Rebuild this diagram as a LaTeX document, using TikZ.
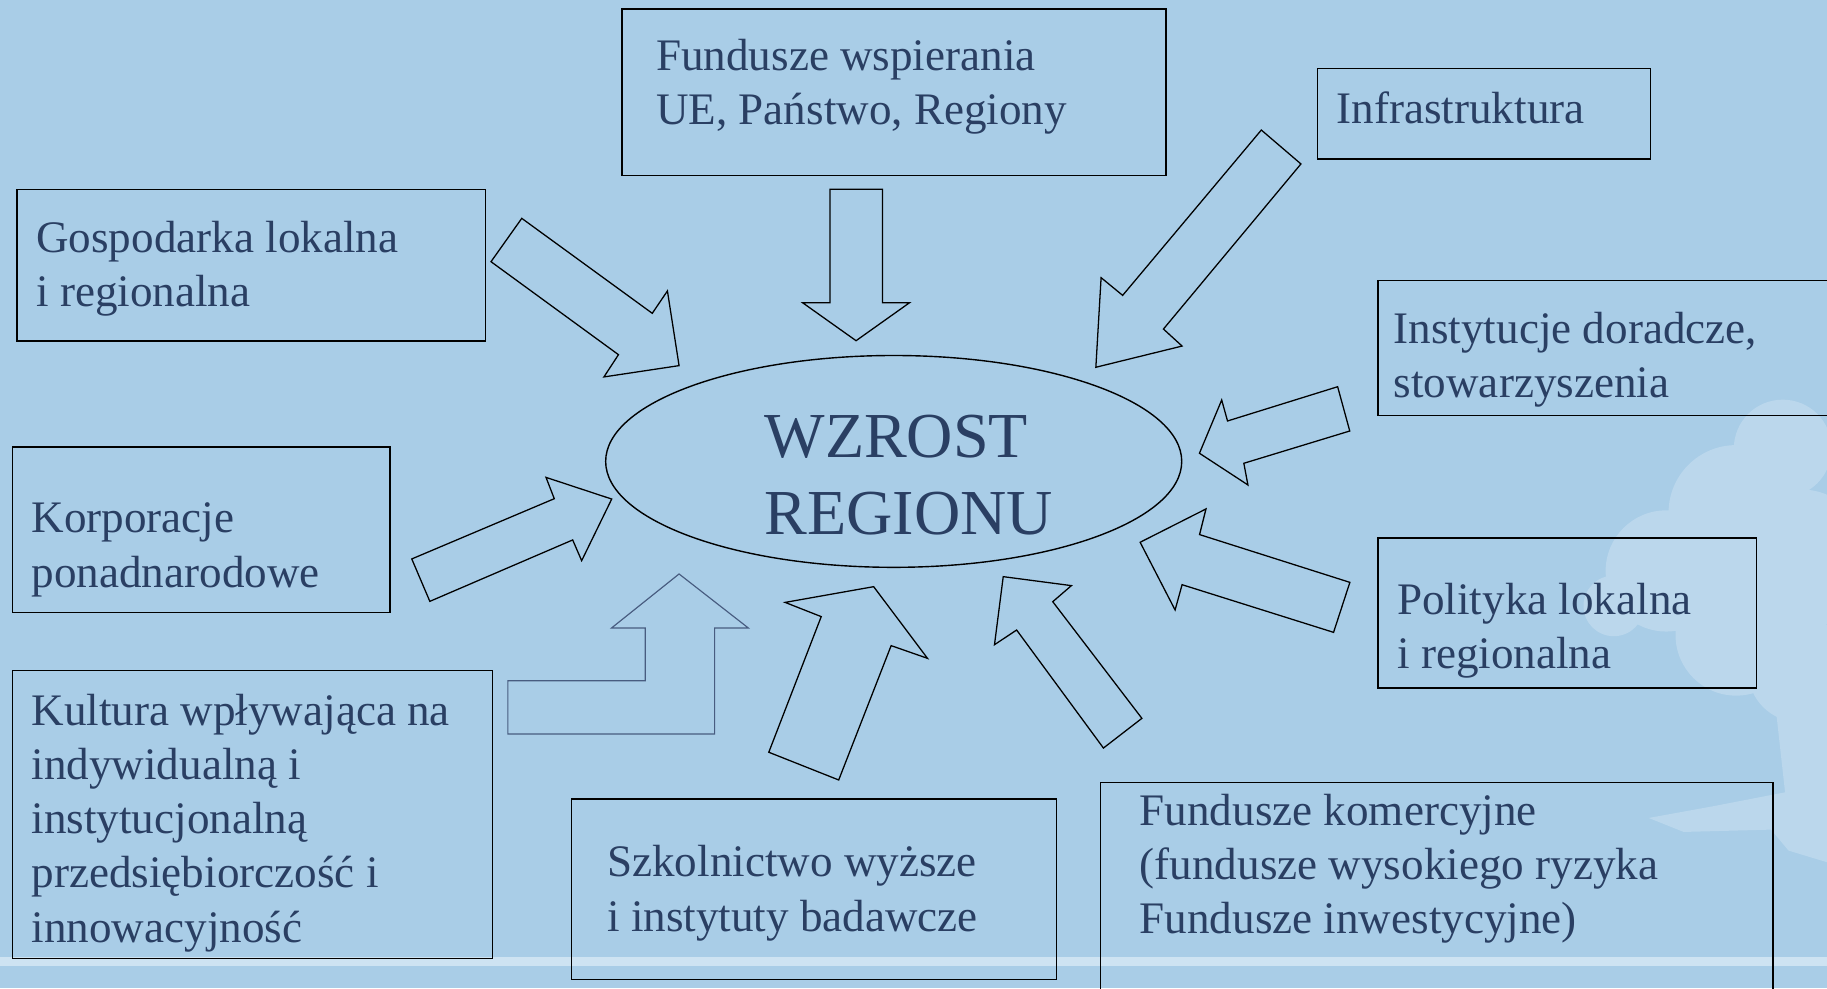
\documentclass[tikz,border=0pt]{standalone}
\usepackage{fontspec}
\setmainfont{Liberation Serif}

\definecolor{slidebg}{RGB}{169,205,231}
\definecolor{navy}{RGB}{42,63,99}
\definecolor{treelight}{RGB}{214,232,245}
\definecolor{stripe}{RGB}{206,227,242}
\definecolor{bentline}{RGB}{72,92,128}

\tikzset{
    frame/.style={draw=black, line width=1.3pt, inner sep=0pt, anchor=north west},
    boxtext/.style={text=navy, inner sep=0pt, anchor=north west, align=left,
        font={\fontsize{38.7pt}{46.5pt}\selectfont}},
    blockarrow/.style={draw=black, line width=1.1pt, line join=miter}
}

\begin{document}
\begin{tikzpicture}[x=1pt,y=-1pt]
    % Slide background
    \fill[slidebg] (0,0) rectangle (1568,848);
    \useasboundingbox (0,0) rectangle (1568,848);
    \fill[stripe] (0,821) rectangle (1568,829);

    % Tree in the background
    \begin{scope}[transparency group, opacity=0.4]
        \fill[treelight] (1530,385) circle (42) (1490,440) circle (58)
            (1430,490) circle (52) (1385,520) circle (26) (1545,480) circle (60)
            (1490,545) circle (52) (1545,575) circle (45);
        \fill[treelight] (1522,590) -- (1532,680) -- (1470,692) -- (1415,702)
            -- (1445,714) -- (1520,712) -- (1535,730) -- (1568,740) -- (1568,590) -- cycle;
    \end{scope}

    % Centre
    \draw[line width=1.2pt] (767,396) coordinate (centre) ellipse [x radius=247.2, y radius=90.9];
    \node[text=navy, inner sep=0pt, anchor=north west, align=left,
        font={\fontsize{55pt}{66pt}\selectfont}] (wzrost) at (656,356) {WZROST\\REGIONU};

    % Boxes
    \node[frame, minimum width=467, minimum height=143] (fundusze) at (533,7) {};
    \node[boxtext] (funduszetxt) at (563,33.5) {Fundusze wspierania\\UE, Państwo, Regiony};

    \node[frame, minimum width=286, minimum height=78] (infra) at (1130,58) {};
    \node[boxtext] (infratxt) at (1147,78.5) {Infrastruktura};

    \node[frame, minimum width=402, minimum height=130] (gosp) at (14,162) {};
    \node[boxtext] (gosptxt) at (31,189.5) {Gospodarka lokalna\\i regionalna};

    \node[frame, minimum width=400, minimum height=116] (inst) at (1182,240) {};
    \node[boxtext] (insttxt) at (1196,267.5) {Instytucje doradcze,\\stowarzyszenia};

    \node[frame, minimum width=324, minimum height=142] (korp) at (10,383) {};
    \node[boxtext] (korptxt) at (27,431.5) {Korporacje\\ponadnarodowe};

    \node[frame, minimum width=325, minimum height=129] (polit) at (1182,461) {};
    \node[boxtext] (polittxt) at (1199,500.5) {Polityka lokalna\\i regionalna};

    \node[frame, minimum width=412, minimum height=247] (kult) at (10,575) {};
    \node[boxtext] (kulttxt) at (27,595.5) {Kultura wpływająca na\\indywidualną i\\instytucjonalną\\przedsiębiorczość i\\innowacyjność};

    \node[frame, minimum width=416, minimum height=155] (szkol) at (490,685) {};
    \node[boxtext] (szkoltxt) at (521,725.5) {Szkolnictwo wyższe\\i instytuty badawcze};

    \node[frame, minimum width=577, minimum height=190] (komerc) at (944,671) {};
    \node[boxtext] (komerctxt) at (978,681.5) {Fundusze komercyjne\\(fundusze wysokiego ryzyka\\Fundusze inwestycyjne)};

    % Block arrows
    \draw[blockarrow] (712.3,162.5) -- (757.3,162.5) -- (757.3,259.8) -- (780.6,259.8)
        -- (734.7,292.4) -- (688.8,259.8) -- (712.3,259.8) -- cycle;
    \draw[blockarrow] (447.8,187.4) -- (559.8,268.9) -- (572.8,249.7) -- (582.8,313.8)
        -- (518.3,323.5) -- (530.8,304.4) -- (421.4,224.6) -- cycle;
    \draw[blockarrow] (1082.5,111.6) -- (1116.5,140.7) -- (998.5,282.4) -- (1014.5,297)
        -- (940.5,315.2) -- (945,238.3) -- (963.5,253.5) -- cycle;
    \draw[blockarrow] (1148,331.9) -- (1158.4,369.9) -- (1067.5,397.6) -- (1071,416.2)
        -- (1029.4,389) -- (1048.5,343.3) -- (1053.5,361.3) -- cycle;
    \draw[blockarrow] (353.4,479.7) -- (475.7,428) -- (468.6,409.7) -- (525,428.3)
        -- (499.2,481.2) -- (491.5,463.4) -- (368.9,516.1) -- cycle;
    \draw[draw=bentline, line width=1pt, line join=miter] (435.9,584.2) -- (553.8,584.2)
        -- (553.8,539) -- (524.8,539) -- (582.8,492.6) -- (642.3,539) -- (613.3,539)
        -- (613.3,630) -- (435.9,630) -- cycle;
    \draw[blockarrow] (659.8,645.6) -- (719.8,669.4) -- (764.8,554.1) -- (796,565)
        -- (749.8,503.5) -- (673.8,517) -- (704.8,529.2) -- cycle;
    \draw[blockarrow] (861,494.9) -- (919.5,502.6) -- (903.5,516.4) -- (980,616.5)
        -- (947,642) -- (872.5,540.7) -- (853.5,553.3) -- cycle;
    \draw[blockarrow] (1035,436.8) -- (1029.5,458.8) -- (1158.5,499.8) -- (1144.5,542.7)
        -- (1014.5,501.8) -- (1008.5,523.5) -- (978.5,465.4) -- cycle;

\end{tikzpicture}
\end{document}
